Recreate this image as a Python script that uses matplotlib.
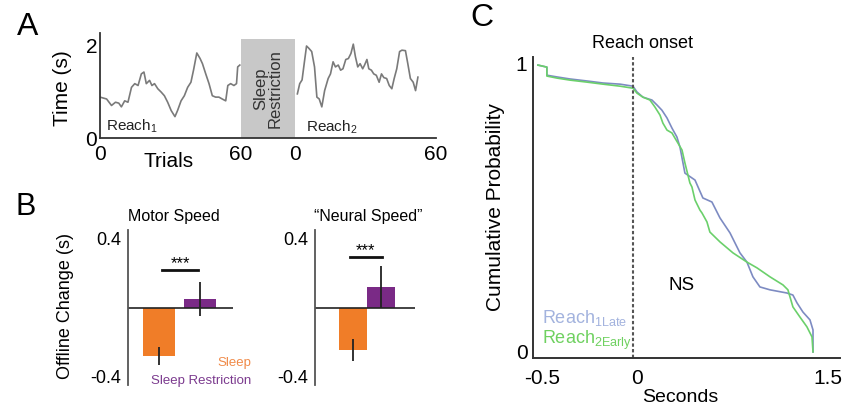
import matplotlib
matplotlib.use('Agg')
import matplotlib.pyplot as plt
import numpy as np
from matplotlib.patches import Rectangle

plt.rcParams['font.family'] = ['Liberation Sans', 'DejaVu Sans']
plt.rcParams['mathtext.fontset'] = 'custom'
plt.rcParams['mathtext.rm'] = 'Liberation Sans'
plt.rcParams['mathtext.it'] = 'Liberation Sans:italic'
plt.rcParams['mathtext.bf'] = 'Liberation Sans:bold'

# ---- data ----
# A: reach time per trial, before and after sleep restriction
reach1_trial = [0, 2.8, 4.9, 6.6, 8.0, 9.1, 10.5, 11.9, 13.4, 14.8, 16.2, 17.6, 18.7, 19.7,
                21.1, 22.1, 23.2, 24.6, 26.0, 27.4, 28.8, 30.3, 31.9, 33.0, 34.5, 35.9, 37.3,
                38.7, 39.8, 41.2, 42.6, 43.6, 45.0, 46.4, 47.8, 49.2, 50.6, 52.0, 53.5, 54.4,
                55.6, 57.0, 58.1, 58.6, 59.5]
reach1_time = [0.88, 0.84, 0.70, 0.77, 0.75, 0.67, 0.80, 0.77, 1.09, 1.17, 1.13, 1.38, 1.42, 1.17,
               1.24, 1.13, 1.17, 1.06, 0.99, 0.91, 0.77, 0.59, 0.46, 0.59, 0.80, 0.91, 1.09,
               1.20, 1.46, 1.83, 1.71, 1.60, 1.38, 1.17, 0.91, 0.88, 0.88, 0.84, 0.80, 1.13,
               1.17, 1.13, 1.17, 1.53, 1.57]
reach2_trial = [1.0, 2.0, 3.0, 3.9, 4.9, 5.9, 7.1, 8.3, 9.3, 10.3, 11.4, 12.6, 14.1, 15.1, 16.2,
                17.2, 18.4, 19.4, 20.4, 21.6, 22.7, 23.8, 24.8, 25.7, 26.7, 27.7, 28.8, 29.6,
                30.6, 31.4, 32.5, 33.5, 34.6, 35.8, 36.8, 37.8, 39.0, 40.1, 41.2, 42.2, 43.3,
                44.5, 45.5, 47.0, 48.0, 49.1, 50.3, 51.3, 52.3]
reach2_time = [0.95, 1.17, 1.25, 1.60, 1.98, 1.93, 1.86, 1.53, 0.88, 0.84, 0.67, 1.02, 1.28, 1.38,
               1.64, 1.53, 1.57, 1.46, 1.49, 1.69, 1.71, 1.82, 2.02, 1.75, 1.53, 1.60, 1.49, 1.57,
               1.69, 1.49, 1.46, 1.38, 1.35, 1.20, 1.38, 1.30, 1.28, 1.13, 1.06, 1.28, 1.49,
               1.86, 1.89, 1.88, 1.60, 1.28, 1.20, 1.02, 1.31]
box_top = 2.13

# B: offline change (s)
groups = ['Sleep', 'Sleep Restriction']
motor_speed = [-0.282, 0.048]
motor_err = [0.052, 0.10]
neural_speed = [-0.247, 0.12]
neural_err = [0.065, 0.12]

# C: cumulative probability vs seconds
late_sec = [-0.521, -0.474, -0.474, -0.421, -0.353, -0.263, -0.179, -0.089, -0.021, 0.0, 0.047,
            0.118, 0.157, 0.196, 0.236, 0.275, 0.314, 0.338, 0.377, 0.456, 0.518, 0.589, 0.652,
            0.731, 0.809, 0.864, 0.911, 0.966, 1.045, 1.178, 1.225, 1.257, 1.304, 1.359, 1.383,
            1.383]
late_prob = [0.993, 0.986, 0.958, 0.952, 0.945, 0.938, 0.931, 0.927, 0.920, 0.900, 0.882,
             0.872, 0.855, 0.837, 0.810, 0.775, 0.744, 0.709, 0.619, 0.595, 0.533, 0.519, 0.464,
             0.412, 0.343, 0.311, 0.260, 0.225, 0.215, 0.204, 0.197, 0.170, 0.138, 0.111, 0.076,
             0.0]
early_sec = [-0.521, -0.474, -0.474, -0.421, -0.353, -0.263, -0.179, -0.089, -0.021, 0.0, 0.047,
             0.102, 0.141, 0.181, 0.204, 0.236, 0.275, 0.299, 0.322, 0.354, 0.377, 0.416, 0.432,
             0.456, 0.495, 0.511, 0.550, 0.573, 0.652, 0.754, 0.864, 0.943, 1.045, 1.147, 1.186,
             1.225, 1.280, 1.335, 1.375, 1.383]
early_prob = [0.993, 0.986, 0.955, 0.948, 0.941, 0.934, 0.927, 0.920, 0.913, 0.896, 0.882,
              0.872, 0.848, 0.820, 0.792, 0.768, 0.758, 0.740, 0.723, 0.699, 0.654, 0.585, 0.571,
              0.526, 0.491, 0.481, 0.450, 0.415, 0.381, 0.343, 0.311, 0.291, 0.260, 0.232, 0.215,
              0.156, 0.121, 0.087, 0.052, 0.0]

orange = '#f07d28'
purple = '#7a2a86'

W, H = 846, 408
def fx(px):
    return px / W
def fy(py):
    return 1 - py / H

fig = plt.figure(figsize=(8.46, 4.08), dpi=100)

# ---------------- A ----------------
gap = 23  # width of sleep restriction block in trial units
axA = fig.add_axes([fx(100), fy(138), 336 / W, 105 / H])
axA.add_patch(Rectangle((60, 0), gap, box_top, facecolor='#c8c8c8', lw=0, zorder=0))
axA.plot(reach1_trial, reach1_time, color='#7a7a7a', lw=1.2)
axA.plot(np.array(reach2_trial) + 60 + gap, reach2_time, color='#7a7a7a', lw=1.2)
axA.set_xlim(0, 120 + gap)
axA.set_ylim(0, 2.26)
axA.set_xticks([0, 60, 60 + gap, 120 + gap], ['0', '60', '0', '60'])
axA.set_yticks([0, 2], ['0', '2'])
axA.tick_params(length=0, labelsize=15)
axA.tick_params(axis='x', pad=5)
axA.tick_params(axis='y', pad=2)
for s in ['top', 'right']:
    axA.spines[s].set_visible(False)
for s in ['left', 'bottom']:
    axA.spines[s].set_color('#333333')
    axA.spines[s].set_linewidth(1.3)
axA.text(60 + gap / 2, 1.07, 'Sleep\nRestriction', rotation=90, ha='center', va='center',
         fontsize=12, color='#333333', linespacing=1.0)
fig.text(fx(106), fy(126), r'Reach$_1$', fontsize=11, va='center', color='#222222')
fig.text(fx(306), fy(127), r'Reach$_2$', fontsize=11, va='center', color='#222222')
fig.text(fx(62), fy(88), 'Time (s)', rotation=90, ha='center', va='center', fontsize=15)
fig.text(fx(169), fy(162), 'Trials', ha='center', va='center', fontsize=15)

# ---------------- B ----------------
def bar_panel(ax, vals, errs, pos, width, xlim, sig_x, sig_y):
    ax.bar(pos, vals, width=width, color=[orange, purple], zorder=1)
    ax.vlines(pos, np.array(vals) - np.array(errs), np.array(vals) + np.array(errs),
              color='#222222', lw=1.3, zorder=3)
    ax.axhline(0, color='#222222', lw=1.2, zorder=2)
    ax.plot(sig_x, [sig_y, sig_y], color='#111111', lw=2)
    ax.text(np.mean(sig_x), sig_y + 0.012, '***', ha='center', va='baseline', fontsize=12)
    ax.set_xlim(*xlim)
    ax.set_ylim(-0.45, 0.45)
    ax.set_xticks([])
    ax.set_yticks([-0.4, 0.4], ['-0.4', '0.4'])
    ax.tick_params(length=0, labelsize=13, pad=5)
    for s in ['top', 'right', 'bottom']:
        ax.spines[s].set_visible(False)
    ax.spines['left'].set_color('#555555')
    ax.spines['left'].set_linewidth(1.3)

axM = fig.add_axes([fx(128), fy(385), 105 / W, 155 / H])
bar_panel(axM, motor_speed, motor_err, [0, 1], 0.78, (-0.756, 1.80), [0.07, 0.95], 0.218)
axN = fig.add_axes([fx(315), fy(385), 100 / W, 155 / H])
bar_panel(axN, neural_speed, neural_err, [0, 1], 1.0, (-1.34, 2.23), [-0.09, 1.05], 0.294)

fig.text(fx(174), fy(216), 'Motor Speed', ha='center', va='center', fontsize=11.5)
fig.text(fx(368), fy(216), '\u201cNeural Speed\u201d', ha='center', va='center', fontsize=11.5)
fig.text(fx(65), fy(306), 'Offline Change (s)', rotation=90, ha='center', va='center', fontsize=13)
fig.text(fx(251), fy(363), groups[0], ha='right', va='center', color='#f08a48', fontsize=9.5)
fig.text(fx(251), fy(381), groups[1], ha='right', va='center', color='#7b3a8e', fontsize=9.5)

# ---------------- C ----------------
k = 1.4925  # the negative side of the axis is drawn wider
def fwd(x):
    x = np.asarray(x, dtype=float)
    return np.where(x < 0, x * k, x)
def inv(x):
    x = np.asarray(x, dtype=float)
    return np.where(x < 0, x / k, x)

axC = fig.add_axes([fx(533), fy(358), 307 / W, 301 / H])
axC.set_xscale('function', functions=(fwd, inv))
axC.plot(late_sec, late_prob, color='#7d8bc2', lw=1.2)
axC.plot(early_sec, early_prob, color='#6bd06b', lw=1.2)
axC.axvline(-0.02, color='#555555', lw=1.5, ls=(0, (1.6, 1.1)))
axC.set_xlim(-0.547, 1.595)
axC.set_ylim(-0.021, 1.021)
axC.set_xticks([-0.5, 0, 1.5], ['-0.5', '0', '1.5'])
axC.set_yticks([0, 1], ['0', '1'])
axC.minorticks_off()
axC.tick_params(length=0, labelsize=15)
axC.tick_params(axis='x', pad=8)
axC.tick_params(axis='y', pad=4)
for s in ['top', 'right']:
    axC.spines[s].set_visible(False)
for s in ['left', 'bottom']:
    axC.spines[s].set_color('#333333')
    axC.spines[s].set_linewidth(1.4)

fig.text(fx(642), fy(43), 'Reach onset', ha='center', va='center', fontsize=13)
fig.text(fx(682), fy(285), 'NS', ha='center', va='center', fontsize=13.5)
fig.text(fx(542), fy(318), r'Reach$_{\mathrm{1Late}}$', va='center', color='#a3b3de', fontsize=13)
fig.text(fx(542), fy(340), r'Reach$_{\mathrm{2Early}}$', va='center', color='#6fd160', fontsize=13)
fig.text(fx(495), fy(207), 'Cumulative Probability', rotation=90, ha='center', va='center',
         fontsize=15)
fig.text(fx(680), fy(398), 'Seconds', ha='center', va='center', fontsize=14)

# panel letters
fig.text(fx(28), fy(27), 'A', ha='center', va='center', fontsize=23)
fig.text(fx(26), fy(207), 'B', ha='center', va='center', fontsize=22)
fig.text(fx(482), fy(18), 'C', ha='center', va='center', fontsize=23)

fig.savefig('out.png', dpi=100)
